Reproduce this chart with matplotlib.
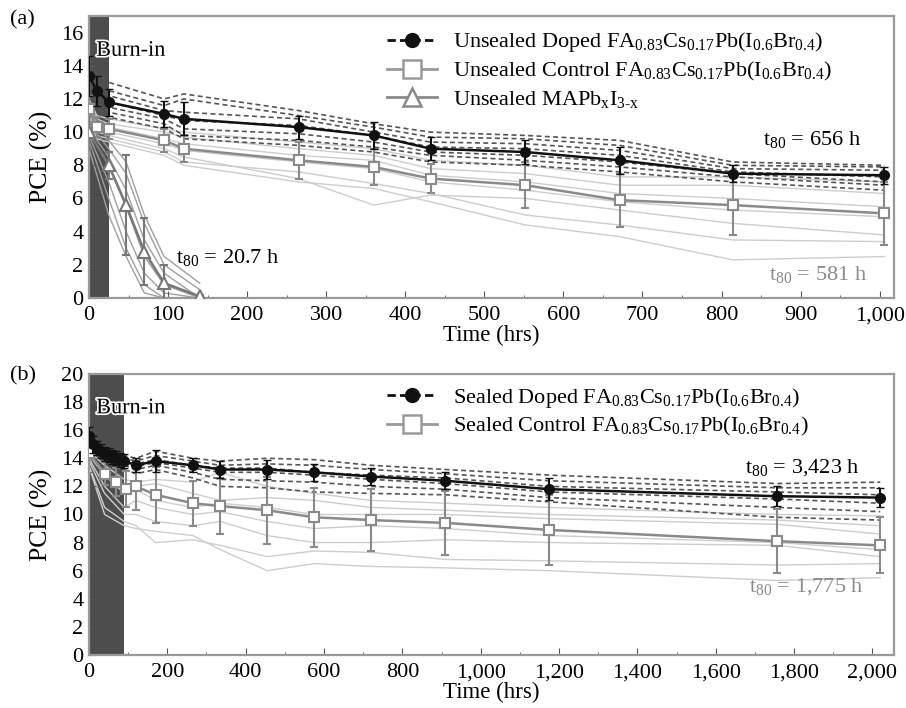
import matplotlib
matplotlib.use("Agg")
import matplotlib.pyplot as plt
import matplotlib.patheffects as pe
from matplotlib.lines import Line2D
from matplotlib.ticker import FuncFormatter, MultipleLocator

plt.rcParams['font.family'] = ['Liberation Serif', 'DejaVu Serif']
plt.rcParams['mathtext.fontset'] = 'custom'
plt.rcParams['mathtext.rm'] = 'Liberation Serif'
plt.rcParams['mathtext.it'] = 'Liberation Serif:italic'
plt.rcParams['font.size'] = 16

# ---------- (a) unsealed ----------
t_a = [0, 10, 25, 95, 120, 265, 360, 432, 552, 671, 814, 1006]
doped_a = [13.4, 12.5, 11.8, 11.1, 10.8, 10.3, 9.8, 9.0, 8.8, 8.3, 7.5, 7.4]
doped_a_err = [1.2, 0.9, 0.8, 0.8, 1.0, 0.7, 0.8, 0.7, 0.7, 0.8, 0.5, 0.5]
control_a = [11.4, 10.3, 10.2, 9.5, 9.0, 8.3, 7.9, 7.2, 6.8, 5.9, 5.6, 5.1]
control_a_err = [0.8, 0.6, 0.6, 0.7, 0.8, 1.1, 1.1, 0.9, 1.4, 1.6, 1.8, 1.9]

doped_a_devices = [
    [14.5, 13.5, 13.0, 12.0, 12.3, 11.3, 10.5, 10.0, 9.8, 9.5, 8.2, 8.0],
    [14.0, 13.0, 12.5, 11.6, 12.0, 11.0, 10.3, 9.7, 9.6, 9.2, 8.0, 7.9],
    [13.5, 12.8, 12.2, 11.3, 11.2, 10.8, 10.0, 9.4, 9.3, 8.9, 7.8, 7.7],
    [13.0, 12.3, 11.8, 11.0, 10.7, 10.4, 9.8, 9.1, 9.0, 8.6, 7.6, 7.3],
    [12.8, 12.0, 11.5, 10.8, 10.2, 9.9, 9.4, 8.8, 8.6, 8.2, 7.5, 7.0],
    [12.5, 11.8, 11.2, 10.5, 9.8, 9.5, 9.1, 8.6, 8.3, 7.9, 7.3, 6.8],
    [12.2, 11.5, 10.9, 10.2, 9.6, 9.2, 8.8, 8.2, 8.0, 7.6, 7.0, 6.5],
]
control_a_devices = [
    [12.0, 11.0, 10.8, 10.2, 10.0, 9.4, 9.0, 8.3, 8.0, 7.3, 7.3, 7.0],
    [11.8, 10.8, 10.5, 10.0, 9.7, 9.0, 8.6, 7.8, 7.5, 6.8, 6.8, 6.3],
    [11.5, 10.5, 10.3, 9.6, 9.3, 8.6, 8.3, 7.4, 7.0, 6.3, 6.0, 5.5],
    [11.2, 10.2, 10.0, 9.3, 8.9, 8.2, 7.8, 7.0, 6.5, 5.8, 5.3, 4.9],
    [11.0, 10.0, 9.8, 9.0, 8.5, 7.2, 5.6, 6.2, 6.0, 5.3, 4.5, 3.8],
    [10.8, 9.8, 9.6, 8.8, 8.2, 7.6, 6.9, 6.3, 5.0, 4.4, 3.5, 3.4],
    [10.5, 9.6, 9.4, 8.6, 8.0, 7.0, 6.6, 5.8, 4.4, 3.7, 2.3, 2.5],
]

t_mapbi = [0, 25, 47, 70, 95, 140]
mapbi = [10.0, 8.0, 5.6, 2.8, 0.9, 0.1]
mapbi_err = [1.0, 0.8, 3.0, 2.0, 1.1, 0.1]
mapbi_devices = [
    [11.0, 9.5, 8.2, 5.0, 2.5, 0.9],
    [10.5, 9.0, 7.5, 4.5, 2.0, 0.5],
    [10.2, 8.5, 6.5, 3.5, 1.5, 0.0],
    [10.0, 8.0, 5.5, 2.5, 0.8, 0.0],
    [9.8, 7.0, 4.0, 1.5, 0.3, 0.0],
    [9.5, 6.0, 3.0, 0.8, 0.0, 0.0],
    [9.0, 5.0, 2.5, 0.3, 0.0, 0.0],
]

# ---------- (b) sealed ----------
t_b = [0, 10, 20, 30, 40, 50, 60, 70, 80, 90, 120, 170, 265, 335, 455, 575,
       720, 910, 1175, 1757, 2020]
doped_b = [15.6, 15.0, 14.7, 14.5, 14.3, 14.2, 14.1, 14.0, 13.9, 13.8, 13.5,
           13.8, 13.5, 13.2, 13.2, 13.0, 12.7, 12.4, 11.8, 11.3, 11.2]
doped_b_err = [0.6, 0.6, 0.5, 0.5, 0.5, 0.5, 0.5, 0.5, 0.5, 0.5, 0.5,
               0.8, 0.5, 0.6, 0.7, 0.6, 0.6, 0.6, 0.8, 0.7, 0.7]

t_b_ctrl = [0, 40, 70, 95, 120, 170, 265, 335, 455, 575, 720, 910, 1175, 1757, 2020]
control_b = [14.4, 12.9, 12.3, 11.8, 12.0, 11.4, 10.8, 10.6, 10.3, 9.8, 9.6,
             9.4, 8.9, 8.1, 7.8]
control_b_err = [0.5, 0.8, 1.0, 1.3, 1.7, 2.0, 1.6, 2.0, 2.4, 2.1, 2.2, 2.3,
                 2.5, 2.3, 2.0]

t_b_dev = [0, 40, 90, 120, 170, 265, 335, 455, 575, 720, 910, 1175, 1757, 2020]
doped_b_devices = [
    [16.0, 15.0, 14.2, 14.0, 14.5, 14.0, 13.8, 14.0, 13.9, 13.5, 13.2, 12.8, 12.2, 12.3],
    [15.8, 14.8, 14.0, 13.8, 14.2, 13.8, 13.5, 13.6, 13.5, 13.2, 12.9, 12.4, 11.9, 11.9],
    [15.5, 14.5, 13.8, 13.6, 13.9, 13.5, 13.3, 13.3, 13.0, 12.8, 12.6, 12.0, 11.6, 11.4],
    [15.3, 14.3, 13.7, 13.4, 13.7, 13.3, 13.0, 13.0, 12.8, 12.5, 12.2, 11.6, 11.1, 10.8],
    [15.0, 14.0, 13.5, 13.2, 13.5, 13.0, 12.5, 12.4, 12.3, 12.0, 11.8, 11.2, 10.5, 10.2],
    [14.8, 13.8, 13.2, 12.9, 13.2, 12.6, 12.0, 11.9, 11.6, 11.5, 11.4, 10.9, 9.8, 9.6],
]
control_b_devices = [
    [14.5, 13.5, 12.5, 12.3, 12.5, 12.3, 13.0, 12.0, 11.5, 11.0, 10.8, 10.5, 10.0, 9.9],
    [14.3, 13.0, 12.0, 12.0, 12.2, 11.5, 11.0, 11.2, 11.0, 10.5, 10.3, 10.0, 9.6, 9.2],
    [14.2, 12.8, 11.5, 11.8, 11.0, 10.5, 10.8, 10.5, 10.0, 10.0, 10.0, 9.7, 9.3, 8.6],
    [14.0, 12.0, 10.5, 11.0, 10.5, 10.0, 10.2, 9.5, 9.0, 9.2, 9.0, 8.5, 8.0, 7.5],
    [13.8, 11.5, 10.0, 10.0, 9.5, 9.2, 9.5, 8.5, 8.0, 8.0, 8.2, 8.0, 7.8, 7.0],
    [13.5, 10.5, 9.5, 9.2, 8.0, 8.2, 7.8, 7.0, 7.4, 7.3, 6.8, 6.7, 6.4, 6.5],
    [13.4, 10.0, 9.2, 9.0, 8.8, 8.5, 7.5, 6.0, 6.5, 6.3, 6.2, 6.0, 5.3, 5.5],
]

formula = r'FA$_{0.83}$Cs$_{0.17}$Pb(I$_{0.6}$Br$_{0.4}$)'

DOPED = '#111111'
DOPED_DEV = '#555555'
CTRL = '#8a8a8a'
CTRL_DEV = '#cdcdcd'
MAPBI_DEV = '#a0a0a0'

fig = plt.figure(figsize=(9.06, 7.08), dpi=100)
ax_a = fig.add_axes([0.0982, 0.5791, 0.8885, 0.3983])
ax_b = fig.add_axes([0.0982, 0.0749, 0.8885, 0.3969])


def style_axes(ax, xmax, ymax, xmajor, xminor, ymajor):
    ax.set_xlim(0, xmax)
    ax.set_ylim(0, ymax)
    ax.xaxis.set_major_locator(MultipleLocator(xmajor))
    ax.xaxis.set_minor_locator(MultipleLocator(xminor))
    ax.yaxis.set_major_locator(MultipleLocator(ymajor))
    ax.yaxis.set_minor_locator(MultipleLocator(ymajor / 2))
    ax.xaxis.set_major_formatter(FuncFormatter(lambda v, p: f'{v:,.0f}'))
    ax.tick_params(which='both', direction='in', colors='#555555', labelcolor='black')
    ax.tick_params(which='major', length=5, labelsize=16)
    ax.tick_params(axis='x', which='major', pad=6)
    ax.tick_params(axis='y', which='major', pad=4)
    ax.tick_params(which='minor', length=2.5)
    for s in ax.spines.values():
        s.set_color('#9a9a9a')
        s.set_linewidth(1.6)
    ax.set_xlabel('Time (hrs)', fontsize=16.5, labelpad=0)
    ax.set_ylabel('PCE (%)', fontsize=18.5, labelpad=6)


def burn_in(ax, t_end, y_text):
    ax.axvspan(0, t_end, color='#4d4d4d', zorder=0, lw=0)
    ax.text(0.009 * ax.get_xlim()[1], y_text, 'Burn-in', fontsize=16, zorder=10,
            path_effects=[pe.withStroke(linewidth=2.5, foreground='white')])


# ----- panel (a) -----
style_axes(ax_a, 1018, 17, 100, 50, 2)
burn_in(ax_a, 25, 14.6)

for dev in control_a_devices:
    ax_a.plot(t_a, dev, color=CTRL_DEV, lw=1.0, zorder=1)
for dev in mapbi_devices:
    ax_a.plot(t_mapbi, dev, color=MAPBI_DEV, lw=1.0, zorder=1)
for dev in doped_a_devices:
    ax_a.plot(t_a, dev, color=DOPED_DEV, lw=1.2, ls=(0, (3, 2)), zorder=2)

ax_a.errorbar(t_a, control_a, yerr=control_a_err, color=CTRL, lw=1.8, marker='s',
              ms=7, mfc='white', mec=CTRL, mew=1.5, capsize=3, elinewidth=1.5, zorder=3)
ax_a.errorbar(t_mapbi, mapbi, yerr=mapbi_err, color='#777777', lw=1.8, marker='^',
              ms=8, mfc='white', mec='#777777', mew=1.5, capsize=3, elinewidth=1.5, zorder=3)
ax_a.errorbar(t_a, doped_a, yerr=doped_a_err, color=DOPED, lw=1.8, marker='o',
              ms=7, capsize=3, elinewidth=1.5, zorder=4)

ax_a.text(110, 2.1, r't$_{80}$ = 20.7 h', fontsize=16)
ax_a.text(852, 9.2, r't$_{80}$ = 656 h', fontsize=16)
ax_a.text(860, 1.1, r't$_{80}$ = 581 h', fontsize=16, color='#8a8a8a')

handles_a = [
    Line2D([], [], color=DOPED, ls=(0, (3, 1.5)), lw=2, marker='o', ms=10),
    Line2D([], [], color='#9a9a9a', lw=2, marker='s', ms=13, mfc='white', mew=1.8),
    Line2D([], [], color='#8a8a8a', lw=2, marker='^', ms=13, mfc='white', mew=1.8),
]
labels_a = ['Unsealed Doped ' + formula, 'Unsealed Control ' + formula,
            r'Unsealed MAPb$_{\mathrm{x}}$I$_{\mathrm{3\text{-}x}}$']
ax_a.legend(handles_a, labels_a, loc='upper left', bbox_to_anchor=(0.345, 1.02),
            frameon=False, handlelength=2.25, handletextpad=0.75, labelspacing=0.25,
            fontsize=16)
fig.text(0.011, 0.965, '(a)', fontsize=16)

# ----- panel (b) -----
style_axes(ax_b, 2055, 20, 200, 100, 2)
burn_in(ax_b, 90, 17.2)

for dev in control_b_devices:
    ax_b.plot(t_b_dev, dev, color=CTRL_DEV, lw=1.0, zorder=1)
for dev in doped_b_devices:
    ax_b.plot(t_b_dev, dev, color=DOPED_DEV, lw=1.2, ls=(0, (3, 2)), zorder=2)

ax_b.errorbar(t_b_ctrl, control_b, yerr=control_b_err, color=CTRL, lw=1.8, marker='s',
              ms=7, mfc='white', mec=CTRL, mew=1.5, capsize=3, elinewidth=1.5, zorder=3)
ax_b.errorbar(t_b, doped_b, yerr=doped_b_err, color=DOPED, lw=1.8, marker='o',
              ms=7, capsize=3, elinewidth=1.5, zorder=4)

ax_b.text(1675, 13.0, r't$_{80}$ = 3,423 h', fontsize=16)
ax_b.text(1685, 4.5, r't$_{80}$ = 1,775 h', fontsize=16, color='#8a8a8a')

handles_b = handles_a[:2]
labels_b = ['Sealed Doped ' + formula, 'Sealed Control ' + formula]
ax_b.legend(handles_b, labels_b, loc='upper left', bbox_to_anchor=(0.345, 1.03),
            frameon=False, handlelength=2.25, handletextpad=0.75, labelspacing=0.25,
            fontsize=16)
fig.text(0.011, 0.462, '(b)', fontsize=16)

fig.savefig('out.png', dpi=100)
